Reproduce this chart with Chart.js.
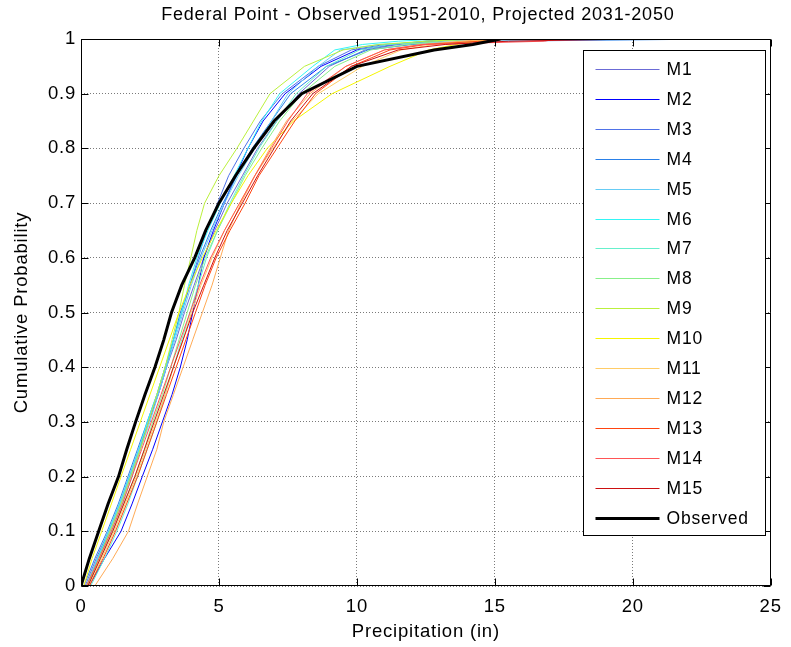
<!DOCTYPE html>
<html>
<head>
<meta charset="utf-8">
<script src="https://cdn.jsdelivr.net/npm/chart.js@4.4.0/dist/chart.umd.min.js"></script>
<style>
html, body { margin: 0; padding: 0; background: #fff; }
#wrap { width: 791px; height: 647px; }
</style>
</head>
<body>
<div id="wrap"><canvas id="cdfFederal"></canvas></div>
<script>
// cumulative probability levels at which each curve was read
const probs = [0, 0.05, 0.1, 0.15, 0.2, 0.25, 0.3, 0.35, 0.4, 0.45, 0.5, 0.55, 0.6, 0.65, 0.7, 0.75, 0.8, 0.85, 0.9, 0.95, 0.98, 0.99, 0.996, 1];

// precipitation (in) at those levels
const observed = [0, 0.30, 0.64, 0.98, 1.36, 1.66, 1.98, 2.32, 2.68, 3.00, 3.28, 3.65, 4.12, 4.52, 5.00, 5.60, 6.26, 7.00, 8.00, 10.0, 12.8, 14.2, 14.8, 15.2];
const m1  = [0.15, 0.55, 1.00, 1.40, 1.75, 2.10, 2.45, 2.80, 3.10, 3.45, 3.75, 4.10, 4.45, 4.85, 5.30, 5.85, 6.40, 7.10, 7.90, 9.00, 10.3, 11.5, 12.8, 14.0];
const m2  = [0.30, 0.85, 1.45, 1.85, 2.22, 2.60, 2.95, 3.30, 3.60, 3.85, 4.05, 4.25, 4.45, 4.80, 5.20, 5.60, 6.05, 6.60, 7.40, 8.70, 10.0, 11.3, 12.5, 13.5];
const m3  = [0.20, 0.60, 1.05, 1.45, 1.80, 2.15, 2.45, 2.80, 3.10, 3.35, 3.65, 3.95, 4.25, 4.55, 4.95, 5.35, 5.90, 6.50, 7.30, 8.60, 9.80, 11.0, 13.0, 14.5];
const m4  = [0.10, 0.50, 0.95, 1.35, 1.70, 2.05, 2.40, 2.75, 3.05, 3.35, 3.60, 3.95, 4.30, 4.70, 5.15, 5.65, 6.20, 6.90, 7.60, 8.90, 10.4, 12.0, 15.0, 23.2];
const m5  = [0.25, 0.65, 1.10, 1.50, 1.85, 2.15, 2.50, 2.80, 3.10, 3.40, 3.70, 4.00, 4.35, 4.75, 5.20, 5.70, 6.30, 6.90, 7.50, 8.60, 9.40, 10.8, 14.5, 18.2];
const m6  = [0.20, 0.60, 1.00, 1.40, 1.75, 2.10, 2.40, 2.75, 3.05, 3.35, 3.65, 3.90, 4.20, 4.60, 5.05, 5.55, 6.05, 6.55, 7.20, 8.40, 9.20, 10.2, 11.5, 13.0];
const m7  = [0.35, 0.85, 1.30, 1.70, 2.05, 2.40, 2.75, 3.05, 3.35, 3.65, 3.95, 4.25, 4.55, 4.95, 5.40, 5.90, 6.45, 7.10, 7.80, 8.90, 10.1, 11.2, 12.5, 13.8];
const m8  = [0.25, 0.70, 1.15, 1.55, 1.95, 2.30, 2.60, 2.95, 3.25, 3.55, 3.85, 4.15, 4.50, 4.95, 5.45, 5.95, 6.55, 7.20, 8.00, 9.20, 10.5, 11.8, 13.0, 14.5];
const m9  = [0.20, 0.65, 1.05, 1.45, 1.80, 2.15, 2.45, 2.75, 3.05, 3.30, 3.55, 3.75, 3.98, 4.20, 4.48, 5.00, 5.65, 6.25, 6.85, 8.10, 9.50, 10.8, 12.5, 14.2];
const m10 = [0.10, 0.40, 0.75, 1.10, 1.45, 1.80, 2.15, 2.50, 2.85, 3.20, 3.55, 3.95, 4.40, 4.90, 5.45, 6.05, 6.75, 7.70, 9.10, 11.2, 12.6, 13.6, 14.3, 15.0];
const m11 = [0.30, 0.75, 1.20, 1.60, 2.00, 2.35, 2.70, 3.05, 3.35, 3.70, 4.00, 4.35, 4.75, 5.20, 5.75, 6.30, 6.95, 7.65, 8.60, 10.2, 11.6, 12.8, 14.0, 15.3];
const m12 = [0.50, 1.15, 1.72, 2.05, 2.40, 2.75, 3.00, 3.35, 3.70, 4.05, 4.40, 4.75, 5.05, 5.35, 5.80, 6.30, 6.85, 7.45, 8.30, 9.60, 11.0, 12.3, 13.8, 14.8];
const m13 = [0.30, 0.80, 1.25, 1.65, 2.05, 2.40, 2.75, 3.10, 3.45, 3.80, 4.15, 4.50, 4.90, 5.40, 5.95, 6.45, 7.10, 7.75, 8.50, 9.80, 11.2, 12.5, 14.5, 15.6];
const m14 = [0.20, 0.65, 1.10, 1.50, 1.85, 2.20, 2.55, 2.90, 3.25, 3.60, 3.95, 4.30, 4.70, 5.20, 5.75, 6.30, 6.90, 7.50, 8.20, 9.60, 11.0, 12.4, 16.8, 17.2];
const m15 = [0.25, 0.70, 1.15, 1.55, 1.95, 2.30, 2.65, 3.00, 3.35, 3.70, 4.05, 4.45, 4.85, 5.30, 5.85, 6.40, 7.00, 7.60, 8.40, 9.80, 11.5, 13.2, 15.5, 20.1];

const modelNames = ['M1', 'M2', 'M3', 'M4', 'M5', 'M6', 'M7', 'M8', 'M9', 'M10', 'M11', 'M12', 'M13', 'M14', 'M15'];
const modelValues = [m1, m2, m3, m4, m5, m6, m7, m8, m9, m10, m11, m12, m13, m14, m15];
const modelColors = ['#6b6bd6', '#0000ff', '#4f72e8', '#2a80e8', '#66ccf5', '#33f5f5', '#66f0cc', '#88f088', '#bbf03c', '#f5f500', '#ffcc66', '#ffaa55', '#ff4411', '#ff5555', '#cc1111'];

const xTicks = [0, 5, 10, 15, 20, 25];
const yTicks = [0, 0.1, 0.2, 0.3, 0.4, 0.5, 0.6, 0.7, 0.8, 0.9, 1];

const chartTitle = 'Federal Point - Observed 1951-2010, Projected 2031-2050';
const FONT = 'Liberation Sans, Arial, sans-serif';

function toPoints(vals) {
    return vals.map((v, i) => ({ x: v, y: probs[i] }));
}

const datasets = modelValues.map((vals, i) => ({
    label: modelNames[i],
    data: toPoints(vals),
    borderColor: modelColors[i],
    borderWidth: 1,
    order: 20 - i
}));
datasets.push({
    label: 'Observed',
    data: toPoints(observed),
    borderColor: '#000000',
    borderWidth: 3,
    order: 0
});

// matlab text is a bit wider than plain arial
const textSpacing = {
    id: 'textSpacing',
    beforeDraw(chart) {
        chart.ctx.letterSpacing = '0.8px';
    }
};

// title above the axes
const axesTitle = {
    id: 'axesTitle',
    afterDraw(chart) {
        const { ctx, chartArea: a } = chart;
        ctx.save();
        ctx.font = '18px ' + FONT;
        ctx.fillStyle = '#000';
        ctx.textAlign = 'center';
        ctx.textBaseline = 'middle';
        ctx.fillText(chartTitle, (a.left + a.right) / 2 - 8, a.top - 24);
        ctx.restore();
    }
};

// matlab style box with inward ticks
const axesBox = {
    id: 'axesBox',
    afterDatasetsDraw(chart) {
        const { ctx, chartArea: a, scales } = chart;
        const l = Math.round(a.left) + 0.5, r = Math.round(a.right) - 0.5;
        const t = Math.round(a.top) + 0.5, b = Math.round(a.bottom) - 0.5;
        const len = 7;
        ctx.save();
        ctx.strokeStyle = '#000';
        ctx.lineWidth = 1;
        ctx.beginPath();
        ctx.rect(l, t, r - l, b - t);
        xTicks.forEach(v => {
            const px = Math.round(scales.x.getPixelForValue(v)) + 0.5;
            ctx.moveTo(px, b); ctx.lineTo(px, b - len);
            ctx.moveTo(px, t); ctx.lineTo(px, t + len);
        });
        yTicks.forEach(v => {
            const py = Math.round(scales.y.getPixelForValue(v)) + 0.5;
            ctx.moveTo(l, py); ctx.lineTo(l + len, py);
            ctx.moveTo(r, py); ctx.lineTo(r - len, py);
        });
        ctx.stroke();
        ctx.restore();
    }
};

// legend box inside the axes, top right
const insideLegend = {
    id: 'insideLegend',
    afterDraw(chart) {
        const { ctx, chartArea: a } = chart;
        const w = 182, h = 485;
        const x0 = Math.round(a.right) - 6 - w + 0.5;
        const y0 = Math.round(a.top) + 11 + 0.5;
        const step = 29.9;
        ctx.save();
        ctx.fillStyle = '#fff';
        ctx.fillRect(x0, y0, w, h);
        ctx.strokeStyle = '#000';
        ctx.lineWidth = 1;
        ctx.strokeRect(x0, y0, w, h);
        ctx.font = '17.5px ' + FONT;
        ctx.textBaseline = 'middle';
        ctx.textAlign = 'left';
        chart.data.datasets.forEach((ds, i) => {
            const y = Math.round(y0 + 18.5 + i * step);
            ctx.beginPath();
            ctx.strokeStyle = ds.borderColor;
            ctx.lineWidth = ds.borderWidth;
            const yy = ds.borderWidth % 2 ? y + 0.5 : y;
            ctx.moveTo(x0 + 12, yy);
            ctx.lineTo(x0 + 76, yy);
            ctx.stroke();
            ctx.fillStyle = '#000';
            ctx.fillText(ds.label, x0 + 83, y + 1);
        });
        ctx.restore();
    }
};

new Chart('cdfFederal', {
    type: 'scatter',
    data: { datasets: datasets },
    options: {
        responsive: true,
        maintainAspectRatio: false,
        animation: false,
        layout: { padding: { left: 0, right: 15, top: 39, bottom: 0 } },
        elements: {
            line: { tension: 0, fill: false },
            point: { radius: 0, hoverRadius: 0 }
        },
        datasets: { scatter: { showLine: true } },
        plugins: {
            legend: { display: false },
            tooltip: { enabled: false },
            title: { display: false }
        },
        scales: {
            x: {
                type: 'linear',
                min: 0,
                max: 25,
                afterFit: s => { s.height = 61; },
                ticks: { stepSize: 5, color: '#000', padding: 10, font: { family: FONT, size: 18.5 } },
                grid: { color: '#7a7a7a', lineWidth: 1, drawTicks: false },
                border: { display: false, dash: [1, 2] },
                title: { display: true, text: 'Precipitation (in)', color: '#000', font: { family: FONT, size: 18.5 }, padding: { top: 0, bottom: 4 } }
            },
            y: {
                type: 'linear',
                min: 0,
                max: 1,
                afterFit: s => { s.width = 81; },
                ticks: {
                    stepSize: 0.1, color: '#000', padding: 5, font: { family: FONT, size: 18.5 },
                    callback: v => String(Number(v.toFixed(1)))
                },
                grid: { color: '#7a7a7a', lineWidth: 1, drawTicks: false },
                border: { display: false, dash: [1, 2] },
                title: { display: true, text: 'Cumulative Probability', color: '#000', font: { family: FONT, size: 18.5 }, padding: { top: 11, bottom: 0 } }
            }
        }
    },
    plugins: [textSpacing, axesTitle, axesBox, insideLegend]
});
</script>
</body>
</html>
